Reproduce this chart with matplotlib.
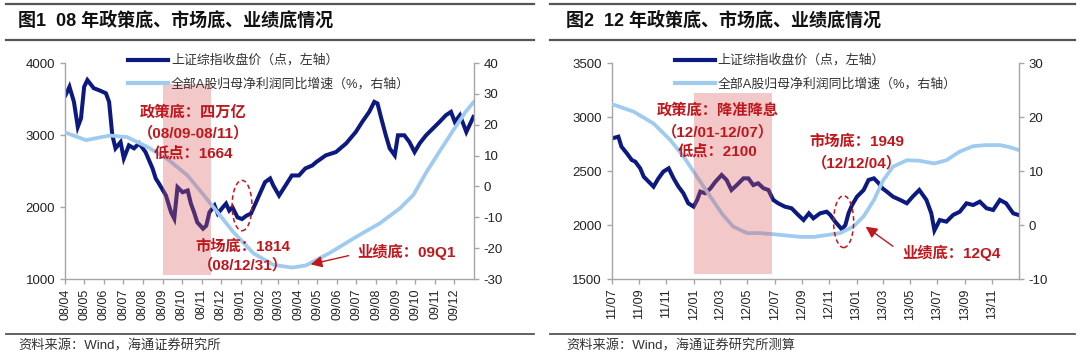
import matplotlib
matplotlib.use('Agg')
import matplotlib.pyplot as plt
import matplotlib.dates as mdates
from matplotlib.patches import Ellipse
from matplotlib.lines import Line2D
import pandas as pd

plt.rcParams['font.family'] = ['Liberation Sans', 'Noto Sans CJK SC']
plt.rcParams['axes.unicode_minus'] = False

# ---- data: 2008 panel ----
sh08_dates = ['2008-04-02', '2008-04-08', '2008-04-15', '2008-04-21', '2008-04-26', '2008-05-01',
              '2008-05-06', '2008-05-16', '2008-05-24', '2008-06-04', '2008-06-09', '2008-06-14',
              '2008-06-19', '2008-06-27', '2008-07-02', '2008-07-10', '2008-07-18', '2008-07-26',
              '2008-08-05', '2008-08-16', '2008-08-21', '2008-08-26', '2008-09-06', '2008-09-14',
              '2008-09-19', '2008-09-24', '2008-10-02', '2008-10-10', '2008-10-15', '2008-10-20',
              '2008-10-25', '2008-11-03', '2008-11-08', '2008-11-13', '2008-11-21', '2008-11-26',
              '2008-12-04', '2008-12-09', '2008-12-14', '2008-12-19', '2008-12-27', '2009-01-03',
              '2009-01-10', '2009-01-17', '2009-01-25', '2009-01-31', '2009-02-08', '2009-02-16',
              '2009-02-21', '2009-03-02', '2009-03-12', '2009-03-22', '2009-04-02', '2009-04-12',
              '2009-04-23', '2009-04-29', '2009-05-14', '2009-05-30', '2009-06-15', '2009-06-30',
              '2009-07-10', '2009-07-21', '2009-07-29', '2009-08-03', '2009-08-09', '2009-08-16',
              '2009-08-22', '2009-08-30', '2009-09-04', '2009-09-14', '2009-09-22', '2009-09-30',
              '2009-10-08', '2009-10-18', '2009-10-29', '2009-11-08', '2009-11-18', '2009-11-26',
              '2009-12-02', '2009-12-10', '2009-12-20', '2009-12-31']
sh08_close = [3554, 3670, 3460, 3112, 3230, 3670,
              3763, 3650, 3623, 3580, 3460, 3000,
              2815, 2902, 2675, 2856, 2815, 2884,
              2763, 2535, 2396, 2326, 2159, 1926,
              1838, 2275, 2205, 2229, 2047, 1926,
              1787, 1699, 1740, 1926, 2020, 1908,
              1996, 2047, 1950, 1996, 1856, 1833,
              1880, 1908, 2066, 2187, 2345, 2396,
              2298, 2159, 2298, 2438, 2438, 2535,
              2577, 2623, 2717, 2763, 2884, 3042,
              3181, 3321, 3460, 3438, 3228, 2996,
              2815, 2717, 2996, 2996, 2902, 2763,
              2884, 2996, 3093, 3181, 3275, 3321,
              3181, 3275, 3042, 3250]

profit08_dates = ['2008-04-01', '2008-05-04', '2008-06-10', '2008-07-07', '2008-08-07', '2008-09-07',
                  '2008-10-09', '2008-11-04', '2008-11-25', '2008-12-20', '2009-01-21', '2009-02-21',
                  '2009-03-22', '2009-04-13', '2009-05-19', '2009-07-01', '2009-08-07', '2009-09-07',
                  '2009-09-28', '2009-10-19', '2009-11-08', '2009-11-28', '2009-12-19', '2010-01-01']
profit08_yoy = [17.5, 15.0, 16.5, 16.0, 12.9, 9.1,
                3.7, -2.8, -8.2, -14.7, -21.7, -25.4,
                -26.3, -25.6, -21.7, -16.3, -11.9, -7.1,
                -2.8, 4.8, 11.3, 17.7, 24.2, 27.5]

# ---- data: 2012 panel ----
sh12_dates = ['2011-07-03', '2011-07-16', '2011-07-23', '2011-08-04', '2011-08-15', '2011-08-23',
              '2011-09-03', '2011-09-11', '2011-09-22', '2011-10-03', '2011-10-14', '2011-10-25',
              '2011-11-06', '2011-11-17', '2011-11-28', '2011-12-09', '2011-12-20', '2012-01-01',
              '2012-01-09', '2012-01-16', '2012-01-27', '2012-02-08', '2012-02-19', '2012-03-04',
              '2012-03-15', '2012-03-26', '2012-04-07', '2012-04-22', '2012-05-03', '2012-05-14',
              '2012-05-25', '2012-06-06', '2012-06-17', '2012-06-28', '2012-07-09', '2012-07-24',
              '2012-08-08', '2012-08-23', '2012-09-04', '2012-09-16', '2012-09-26', '2012-10-11',
              '2012-10-26', '2012-11-03', '2012-11-14', '2012-11-29', '2012-12-07', '2012-12-14',
              '2012-12-22', '2013-01-02', '2013-01-17', '2013-01-28', '2013-02-09', '2013-02-20',
              '2013-02-28', '2013-03-10', '2013-03-24', '2013-04-09', '2013-04-24', '2013-05-07',
              '2013-05-22', '2013-06-07', '2013-06-18', '2013-06-25', '2013-07-07', '2013-07-22',
              '2013-08-06', '2013-08-21', '2013-09-05', '2013-09-20', '2013-10-05', '2013-10-20',
              '2013-11-04', '2013-11-19', '2013-12-03', '2013-12-19', '2013-12-31']
sh12_close = [2803, 2818, 2725, 2664, 2602, 2586,
              2525, 2447, 2401, 2355, 2432, 2494,
              2525, 2432, 2355, 2294, 2201, 2170,
              2232, 2309, 2294, 2340, 2401, 2463,
              2417, 2324, 2370, 2432, 2432, 2370,
              2386, 2340, 2324, 2232, 2201, 2170,
              2155, 2093, 2046, 2108, 2062, 2108,
              2123, 2093, 2031, 1960, 2000, 2108,
              2185, 2262, 2324, 2417, 2432, 2386,
              2340, 2309, 2262, 2232, 2201, 2262,
              2324, 2232, 2108, 1950, 2046, 2031,
              2093, 2123, 2201, 2185, 2216, 2155,
              2139, 2232, 2201, 2108, 2093]

profit12_dates = ['2011-07-01', '2011-08-19', '2011-10-03', '2011-11-10', '2011-12-10', '2012-01-09',
                  '2012-02-08', '2012-03-07', '2012-03-30', '2012-04-30', '2012-05-29', '2012-06-28',
                  '2012-08-28', '2012-09-28', '2012-11-25', '2012-12-25', '2013-01-17', '2013-02-09',
                  '2013-03-02', '2013-03-24', '2013-04-24', '2013-05-22', '2013-06-25', '2013-07-22',
                  '2013-08-21', '2013-09-20', '2013-10-20', '2013-11-19', '2013-12-12', '2013-12-31']
profit12_yoy = [22.4, 21.0, 18.8, 15.7, 12.6, 8.9,
                5.2, 1.85, -0.3, -1.5, -1.5, -1.7,
                -2.2, -2.2, -1.5, -0.3, 1.6, 4.6,
                8.3, 10.8, 12.0, 11.9, 11.4, 12.0,
                13.6, 14.6, 14.8, 14.8, 14.4, 13.9]

label_index = '上证综指收盘价（点，左轴）'
label_profit = '全部A股归母净利润同比增速（%，右轴）'

NAVY = '#0c1a80'
LIGHT = '#9fcbf0'
RED = '#c0171d'
SPINE = '#a6a6a6'
TXT = '#222222'


def style_axes(ax, ax2):
    for a in (ax, ax2):
        a.spines['top'].set_visible(False)
        for s in ('left', 'right', 'bottom'):
            a.spines[s].set_color(SPINE)
            a.spines[s].set_linewidth(1.0)
        a.tick_params(axis='both', colors=SPINE, labelcolor=TXT, labelsize=9.5, length=3.5, width=1.0)
    ax.tick_params(axis='x', labelrotation=90, labelsize=9)
    ax.spines['right'].set_visible(False)
    ax2.spines['left'].set_visible(False)
    ax2.spines['bottom'].set_visible(False)


def panel(rect, idx_dates, idx_vals, p_dates, p_vals, xlim, ylim, y2lim, yticks, y2ticks,
          tick_freq, span, span_frac, ell, notes, arrow):
    ax = fig.add_axes(rect)
    ax2 = ax.twinx()
    ax.plot(pd.to_datetime(idx_dates), idx_vals, color=NAVY, lw=2.9, solid_joinstyle='miter')
    ax2.plot(pd.to_datetime(p_dates), p_vals, color=LIGHT, lw=2.7, solid_capstyle='round')
    ax.set_xlim(pd.Timestamp(xlim[0]), pd.Timestamp(xlim[1]))
    ax.set_ylim(*ylim)
    ax2.set_ylim(*y2lim)
    ax.set_yticks(yticks)
    ax2.set_yticks(y2ticks)
    ticks = pd.date_range(xlim[0], xlim[1], freq=tick_freq)[:-1]
    ax.set_xticks(ticks)
    ax.xaxis.set_major_formatter(mdates.DateFormatter('%y/%m'))
    style_axes(ax, ax2)

    # shaded policy-bottom window, drawn over both lines
    ax2.axvspan(pd.Timestamp(span[0]), pd.Timestamp(span[1]), ymin=span_frac[0], ymax=span_frac[1],
                color='#dc5a5a', alpha=0.33, lw=0, zorder=5)
    # dashed ellipse around the market bottom
    e = Ellipse((mdates.date2num(pd.Timestamp(ell[0])), ell[1]), ell[2], ell[3],
                transform=ax.transData, fill=False, edgecolor=RED, lw=1.1, ls=(0, (3, 2)), zorder=6)
    ax2.add_patch(e)
    ax2.set_xlim(pd.Timestamp(xlim[0]), pd.Timestamp(xlim[1]))

    for txt, fx, fy in notes:
        ax2.text(fx, fy, txt, transform=ax2.transAxes, ha='center', va='center', color=RED,
                 fontsize=11, fontweight='bold', zorder=7)
    ax2.annotate('', xy=arrow[1], xytext=arrow[0], xycoords='axes fraction', textcoords='axes fraction',
                 arrowprops=dict(arrowstyle='-|>', color=RED, lw=1.0, mutation_scale=17), zorder=7)

    handles = [Line2D([], [], color=NAVY, lw=3.0), Line2D([], [], color=LIGHT, lw=3.0)]
    leg = ax2.legend(handles, [label_index, label_profit], loc='upper left', bbox_to_anchor=(0.155, 1.04),
                     frameon=False, fontsize=9.3, handlelength=3.1, handletextpad=0.2, labelspacing=0.85,
                     borderpad=0, borderaxespad=0)
    for t in leg.get_texts():
        t.set_color('#333333')
    leg.set_zorder(8)
    return ax, ax2


fig = plt.figure(figsize=(10.8, 3.57), dpi=100)

# header / footer rules and texts
for x0, x1 in ((0.006, 0.494), (0.509, 0.995)):
    fig.add_artist(Line2D([x0, x1], [1 - 4 / 357, 1 - 4 / 357], color='#555555', lw=1.6))
    fig.add_artist(Line2D([x0, x1], [1 - 40 / 357, 1 - 40 / 357], color='#555555', lw=1.6))
    fig.add_artist(Line2D([x0, x1], [1 - 334 / 357, 1 - 334 / 357], color='#555555', lw=1.3))

fig.text(18 / 1080, 1 - 21 / 357, '图1  08 年政策底、市场底、业绩底情况', fontsize=13, fontweight='bold',
         va='center', ha='left', color='#111111')
fig.text(566 / 1080, 1 - 21 / 357, '图2  12 年政策底、市场底、业绩底情况', fontsize=13, fontweight='bold',
         va='center', ha='left', color='#111111')
fig.text(18 / 1080, 1 - 346 / 357, '资料来源：Wind，海通证券研究所', fontsize=9.5, va='center', ha='left',
         color='#333333')
fig.text(566 / 1080, 1 - 346 / 357, '资料来源：Wind，海通证券研究所测算', fontsize=9.5, va='center', ha='left',
         color='#333333')

panel([65 / 1080, 1 - 279 / 357, 409 / 1080, 216 / 357],
      sh08_dates, sh08_close, profit08_dates, profit08_yoy,
      ('2008-04-01', '2010-01-01'), (1000, 4000), (-30, 40),
      [1000, 2000, 3000, 4000], [-30, -20, -10, 0, 10, 20, 30, 40], 'MS',
      ('2008-09-01', '2008-11-16'), (0.02, 0.903),
      ('2009-01-03', 2020, 31, 700),
      [('政策底：四万亿', 0.313, 0.773), ('（08/09-08/11）', 0.313, 0.676), ('低点：1664', 0.313, 0.583),
       ('市场底：1814', 0.435, 0.148), ('（08/12/31）', 0.435, 0.065), ('业绩底：09Q1', 0.836, 0.125)],
      ((0.70, 0.111), (0.594, 0.065)))

panel([611.7 / 1080, 1 - 279 / 357, 407.3 / 1080, 216 / 357],
      sh12_dates, sh12_close, profit12_dates, profit12_yoy,
      ('2011-07-01', '2014-01-01'), (1500, 3500), (-10, 30),
      [1500, 2000, 2500, 3000, 3500], [-10, 0, 10, 20, 30], '2MS',
      ('2012-01-01', '2012-06-25'), (0.023, 0.86),
      ('2012-12-03', 2031, 45, 480),
      [('政策底：降准降息', 0.261, 0.782), ('（12/01-12/07）', 0.261, 0.682), ('低点：2100', 0.261, 0.589),
       ('市场底：1949', 0.602, 0.634), ('（12/12/04）', 0.602, 0.537), ('业绩底：12Q4', 0.835, 0.119)],
      ((0.696, 0.144), (0.618, 0.25)))

fig.savefig('out.png', dpi=100)
